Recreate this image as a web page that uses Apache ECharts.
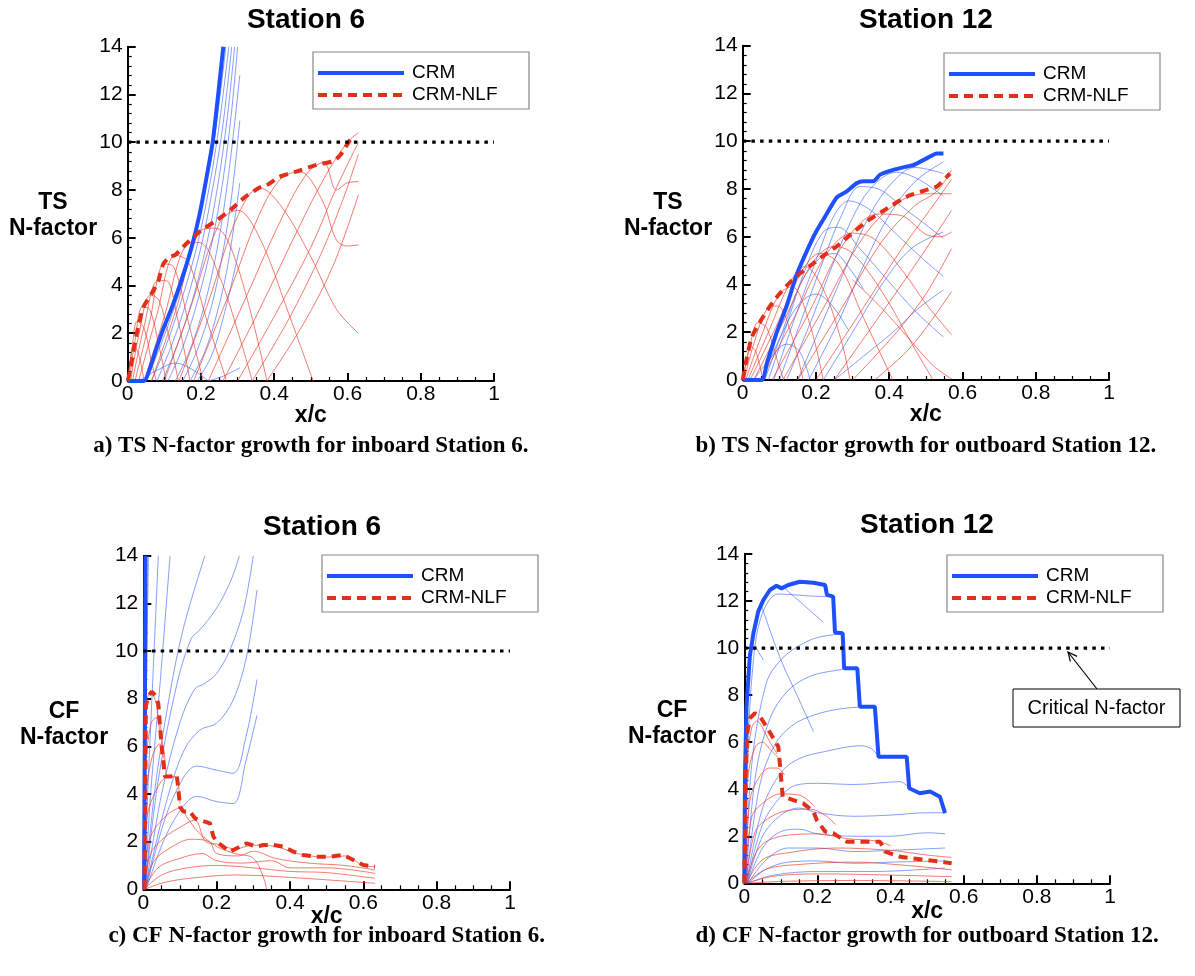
<!DOCTYPE html>
<html><head><meta charset="utf-8">
<script src="https://cdn.jsdelivr.net/npm/echarts/dist/echarts.min.js"></script>
<style>html,body{margin:0;padding:0;background:#fff}#c{width:1195px;height:976px}</style>
</head><body><div id="c"></div><script>
// ---------- DATA ----------
const xTickValues = [0, 0.2, 0.4, 0.6, 0.8, 1];
const yTickValues = [0, 2, 4, 6, 8, 10, 12, 14];
const criticalN = [[0, 10], [1, 10]];
const legendNames = ['CRM', 'CRM-NLF'];
const titles = ['Station 6', 'Station 12', 'Station 6', 'Station 12'];
const yNames = [['TS', 'N-factor'], ['TS', 'N-factor'], ['CF', 'N-factor'], ['CF', 'N-factor']];
const captions = ['a) TS N-factor growth for inboard Station 6.', 'b) TS N-factor growth for outboard Station 12.',
  'c) CF N-factor growth for inboard Station 6.', 'd) CF N-factor growth for outboard Station 12.'];

// (a) TS, Station 6
const tsS6_crmEnv = [[0,0],[0.045,0],[0.06,0.5],[0.079,1.4],[0.1,2.3],[0.12,3.05],[0.147,4.23],[0.175,5.63],[0.197,7.03],[0.214,8.42],[0.232,10],[0.247,12],[0.261,14]];
const tsS6_nlfEnv = [[0,0],[0.006,0.4],[0.015,1.2],[0.025,2.0],[0.043,3.1],[0.065,3.65],[0.084,4.2],[0.097,4.9],[0.115,5.2],[0.13,5.28],[0.16,5.75],[0.2,6.3],[0.24,6.7],[0.28,7.15],[0.32,7.7],[0.36,8.1],[0.38,8.2],[0.415,8.55],[0.46,8.77],[0.515,9.05],[0.56,9.2],[0.58,9.45],[0.605,10.05],[0.615,10.25]];
const tsS6_crmModes = [
  [[0.05,0],[0.09,1.5],[0.13,3.2],[0.17,5.2],[0.2,7.2],[0.235,10],[0.268,14]],
  [[0.065,0],[0.105,1.5],[0.145,3.3],[0.185,5.4],[0.215,7.5],[0.245,10.2],[0.276,14]],
  [[0.08,0],[0.12,1.5],[0.16,3.3],[0.2,5.6],[0.23,7.9],[0.258,10.5],[0.284,14]],
  [[0.095,0],[0.135,1.5],[0.175,3.3],[0.215,5.7],[0.245,8.1],[0.27,10.8],[0.292,14]],
  [[0.11,0],[0.15,1.4],[0.19,3.3],[0.23,5.8],[0.26,8.4],[0.283,11.2],[0.3,14]],
  [[0.13,0],[0.17,1.3],[0.21,3.2],[0.245,5.6],[0.275,8.6],[0.306,12.8]],
  [[0.15,0],[0.19,1.3],[0.23,3.2],[0.26,5.4],[0.285,7.9],[0.306,10.9]],
  [[0.17,0],[0.21,1.2],[0.245,2.9],[0.275,5.0],[0.306,8.3]],
  [[0.19,0],[0.23,1.1],[0.265,2.9],[0.306,5.6]],
  [[0.22,0],[0.26,0.2],[0.306,0.55]],
  [[0.03,0],[0.08,0.45],[0.13,0.75],[0.18,0.45],[0.22,0]]
];
const tsS6_nlfModes = [
  [[0,0],[0.008,0.9],[0.016,1.5],[0.03,1.1],[0.045,0]],
  [[0,0],[0.012,1.4],[0.026,2.5],[0.045,2.2],[0.065,0.8],[0.078,0]],
  [[0.004,0],[0.02,1.7],[0.04,3.1],[0.06,3.0],[0.085,1.5],[0.105,0]],
  [[0.008,0],[0.03,1.9],[0.062,3.6],[0.085,3.4],[0.115,1.7],[0.138,0]],
  [[0.013,0],[0.045,2.3],[0.082,4.2],[0.105,4.2],[0.135,2.7],[0.17,0]],
  [[0.02,0],[0.06,2.5],[0.1,4.9],[0.125,4.8],[0.165,2.5],[0.206,0]],
  [[0.03,0],[0.08,2.8],[0.13,5.27],[0.165,5.0],[0.215,2.6],[0.27,0]],
  [[0.045,0],[0.1,2.7],[0.16,5.7],[0.195,5.8],[0.25,4.4],[0.31,1.6],[0.34,0]],
  [[0.065,0],[0.13,2.9],[0.2,6.3],[0.24,6.4],[0.3,4.8],[0.38,0]],
  [[0.1,0],[0.17,3.0],[0.25,6.6],[0.3,7.15],[0.36,6.0],[0.44,2.8],[0.506,0]],
  [[0.14,0],[0.22,3.3],[0.3,6.9],[0.36,8.1],[0.42,7.3],[0.5,5.2],[0.57,3.0],[0.63,2.0]],
  [[0.18,0],[0.27,3.4],[0.36,7.0],[0.42,8.5],[0.47,8.75],[0.53,7.6],[0.57,5.9],[0.6,5.65],[0.63,5.7]],
  [[0.22,0],[0.32,3.4],[0.42,6.8],[0.49,8.7],[0.535,9.15],[0.57,8.0],[0.6,8.3],[0.63,8.35]],
  [[0.26,0],[0.36,3.0],[0.46,6.2],[0.54,8.6],[0.6,10.0],[0.63,10.4]],
  [[0.3,0],[0.4,2.7],[0.5,5.6],[0.57,8.1],[0.63,10.0]],
  [[0.34,0],[0.44,2.6],[0.53,5.4],[0.59,7.7],[0.63,9.5]],
  [[0.38,0],[0.48,2.4],[0.56,4.8],[0.63,7.8]]
];

// (b) TS, Station 12
const tsS12_crmEnv = [[0,0],[0.052,0],[0.066,0.7],[0.093,2.0],[0.12,3.1],[0.147,4.4],[0.175,5.4],[0.2,6.2],[0.229,6.95],[0.257,7.65],[0.284,7.9],[0.311,8.24],[0.33,8.32],[0.357,8.32],[0.375,8.6],[0.411,8.8],[0.448,8.94],[0.466,9.0],[0.502,9.28],[0.53,9.49],[0.548,9.49]];
const tsS12_nlfEnv = [[0,0],[0.011,0.9],[0.025,1.8],[0.05,2.5],[0.075,3.1],[0.1,3.6],[0.13,4.1],[0.16,4.5],[0.19,4.85],[0.22,5.2],[0.257,5.6],[0.295,6.1],[0.34,6.65],[0.38,7.05],[0.402,7.26],[0.448,7.68],[0.502,7.96],[0.53,8.1],[0.566,8.65]];
const tsS12_crmModes = [
  [[0.03,0],[0.07,0.8],[0.12,1.5],[0.155,1.2],[0.184,0]],
  [[0.05,0],[0.1,1.7],[0.15,3.1],[0.2,3.6],[0.245,3.1],[0.288,2.1]],
  [[0.06,0],[0.11,2.1],[0.16,4.1],[0.21,5.1],[0.25,5.3],[0.29,4.7],[0.33,3.8]],
  [[0.07,0],[0.12,2.3],[0.17,4.6],[0.22,6.2],[0.26,6.4],[0.32,5.5],[0.4,4.1],[0.47,2.9],[0.548,1.8]],
  [[0.085,0],[0.14,2.5],[0.2,5.0],[0.25,6.9],[0.29,7.5],[0.35,7.1],[0.42,6.1],[0.49,5.1],[0.548,4.33]],
  [[0.1,0],[0.16,2.5],[0.22,5.0],[0.27,6.9],[0.32,8.1],[0.37,8.0],[0.44,7.2],[0.5,6.5],[0.548,5.93]],
  [[0.12,0],[0.19,2.6],[0.25,5.0],[0.31,7.1],[0.36,8.2],[0.42,8.7],[0.48,8.4],[0.548,7.7]],
  [[0.15,0],[0.22,2.5],[0.29,5.0],[0.35,7.0],[0.41,8.3],[0.47,8.9],[0.548,8.65]],
  [[0.18,0],[0.26,2.4],[0.33,4.8],[0.4,6.9],[0.47,8.3],[0.548,9.14]],
  [[0.22,0],[0.3,2.0],[0.38,4.0],[0.46,5.5],[0.548,6.2]],
  [[0.25,0],[0.33,1.0],[0.41,2.0],[0.48,3.0],[0.548,3.77]]
];
const tsS12_nlfModes = [
  [[0,0],[0.01,0.8],[0.022,1.4],[0.036,1.2],[0.055,0]],
  [[0,0],[0.018,1.3],[0.042,2.4],[0.065,2.2],[0.095,0.8],[0.112,0]],
  [[0.004,0],[0.03,1.5],[0.068,3.0],[0.095,3.1],[0.135,1.8],[0.165,0]],
  [[0.008,0],[0.05,1.8],[0.1,3.6],[0.135,3.9],[0.18,2.5],[0.22,0]],
  [[0.014,0],[0.07,2.0],[0.13,4.1],[0.17,4.75],[0.22,3.8],[0.27,1.6],[0.293,0]],
  [[0.02,0],[0.09,2.2],[0.16,4.5],[0.21,5.3],[0.26,4.9],[0.33,2.6],[0.41,0]],
  [[0.03,0],[0.11,2.4],[0.19,4.9],[0.25,5.6],[0.3,5.3],[0.38,3.7],[0.47,1.3],[0.52,0]],
  [[0.05,0],[0.14,2.6],[0.23,5.3],[0.3,6.15],[0.36,5.9],[0.44,4.5],[0.5,3.2],[0.57,1.9]],
  [[0.08,0],[0.18,2.8],[0.28,5.8],[0.37,6.95],[0.43,6.9],[0.5,6.1],[0.54,6.0],[0.57,6.2]],
  [[0.11,0],[0.22,3.0],[0.33,6.0],[0.42,7.4],[0.5,7.8],[0.57,7.8]],
  [[0.15,0],[0.27,3.0],[0.38,5.8],[0.47,7.3],[0.53,7.9],[0.57,8.8]],
  [[0.2,0],[0.32,2.8],[0.43,5.4],[0.51,7.1],[0.57,8.4]],
  [[0.25,0],[0.37,2.6],[0.47,4.8],[0.57,7.1]],
  [[0.3,0],[0.42,2.0],[0.5,3.6],[0.57,5.5]],
  [[0.36,0],[0.46,1.4],[0.57,3.7]],
  [[0.3,4.2],[0.38,3.0],[0.45,1.8],[0.52,0.6],[0.57,0.05]]
];

// (c) CF, Station 6
const cfS6_crmEnv = [[0.002,0],[0.004,6],[0.006,14]];
const cfS6_nlfEnv = [[0.003,0],[0.005,4],[0.007,7.7],[0.014,8.1],[0.023,8.3],[0.032,8.15],[0.041,7.8],[0.045,6.96],[0.05,5.98],[0.056,5.15],[0.059,4.73],[0.073,4.73],[0.091,4.8],[0.095,4.31],[0.1,3.47],[0.109,3.26],[0.127,3.26],[0.141,2.98],[0.168,2.84],[0.182,2.77],[0.191,2.21],[0.205,1.93],[0.218,1.79],[0.236,1.58],[0.255,1.72],[0.282,1.93],[0.309,1.79],[0.327,1.86],[0.355,1.86],[0.382,1.79],[0.409,1.58],[0.436,1.44],[0.473,1.37],[0.509,1.37],[0.545,1.44],[0.573,1.23],[0.6,1.02],[0.632,0.95]];
const cfS6_crmModes = [
  [[0.002,0],[0.006,5],[0.01,10],[0.014,14]],
  [[0.003,0],[0.012,4],[0.025,8.5],[0.041,14]],
  [[0.004,0],[0.02,4],[0.045,8.5],[0.073,14]],
  [[0.005,0],[0.03,4],[0.07,8],[0.11,11],[0.168,14]],
  [[0.005,0],[0.04,4.5],[0.09,8.5],[0.13,10.5],[0.155,10.9],[0.2,11.8],[0.24,13],[0.262,14]],
  [[0.006,0],[0.05,4],[0.1,7],[0.14,8.4],[0.168,8.64],[0.2,9.06],[0.236,10.04],[0.273,11.7],[0.3,14]],
  [[0.006,0],[0.06,3.5],[0.11,5.8],[0.155,6.69],[0.2,6.97],[0.245,7.94],[0.282,9.8],[0.31,12.56]],
  [[0.007,0],[0.06,3],[0.11,4.7],[0.145,5.17],[0.2,5.0],[0.245,4.87],[0.28,6.4],[0.31,8.8]],
  [[0.008,0],[0.06,2.2],[0.11,3.5],[0.145,3.9],[0.2,3.68],[0.245,3.6],[0.28,5.4],[0.31,7.3]]
];
const cfS6_nlfModes = [
  [[0.001,0],[0.004,6],[0.012,8.1],[0.022,8.2],[0.035,7.8],[0.045,6.5]],
  [[0.001,0],[0.006,5],[0.02,6.9],[0.035,7.2],[0.045,7.0],[0.055,5.5]],
  [[0.001,0],[0.008,4],[0.025,5.6],[0.045,6.1],[0.055,5.9],[0.062,4.8]],
  [[0.001,0],[0.01,3],[0.04,4.3],[0.07,4.75],[0.09,4.7],[0.1,3.6]],
  [[0.001,0],[0.015,2.0],[0.05,2.9],[0.1,3.4],[0.12,3.0],[0.15,2.4],[0.2,1.8],[0.25,1.5],[0.3,1.3],[0.33,0.4],[0.336,0]],
  [[0.002,0],[0.02,1.5],[0.06,2.2],[0.1,2.6],[0.14,2.9],[0.17,2.0],[0.2,1.9],[0.25,1.7],[0.3,1.85],[0.36,1.8],[0.42,1.5],[0.5,1.35],[0.55,1.4],[0.6,1.0],[0.632,0.95]],
  [[0.002,0],[0.03,1.2],[0.08,1.8],[0.13,2.1],[0.18,2.0],[0.2,1.5],[0.26,1.4],[0.3,1.6],[0.36,1.3],[0.45,1.1],[0.55,1.0],[0.632,0.81]],
  [[0.003,0],[0.04,0.9],[0.1,1.3],[0.16,1.5],[0.2,1.2],[0.27,1.1],[0.35,1.2],[0.4,0.9],[0.5,0.9],[0.632,0.67]],
  [[0.003,0],[0.05,0.6],[0.12,0.9],[0.2,1.0],[0.3,0.9],[0.4,0.75],[0.5,0.7],[0.632,0.46]],
  [[0.004,0],[0.06,0.3],[0.15,0.5],[0.25,0.6],[0.4,0.5],[0.632,0.25]]
];

// (d) CF, Station 12
const cfS12_crmEnv = [[0,0],[0.002,4.68],[0.006,7.5],[0.015,9.64],[0.025,10.63],[0.038,11.55],[0.052,12.04],[0.07,12.47],[0.088,12.65],[0.102,12.54],[0.12,12.68],[0.152,12.82],[0.189,12.78],[0.221,12.68],[0.226,12.26],[0.243,12.19],[0.248,10.66],[0.269,10.63],[0.273,9.14],[0.309,9.14],[0.316,7.51],[0.357,7.51],[0.367,5.38],[0.444,5.38],[0.451,4.04],[0.48,3.83],[0.508,3.9],[0.535,3.68],[0.549,2.98]];
const cfS12_nlfEnv = [[0,0],[0.004,4.68],[0.008,6.38],[0.015,7.01],[0.029,7.23],[0.043,7.09],[0.066,6.52],[0.093,5.81],[0.098,4.96],[0.105,3.68],[0.12,3.61],[0.161,3.4],[0.189,3.05],[0.198,2.69],[0.221,2.2],[0.243,2.13],[0.28,1.77],[0.371,1.77],[0.385,1.35],[0.426,1.13],[0.462,1.06],[0.499,0.99],[0.535,0.92],[0.567,0.85]];
const cfS12_crmModes = [
  [[0.002,0],[0.008,5],[0.025,9.5],[0.05,11.5],[0.093,12.3],[0.15,12.25],[0.2,12.2],[0.226,12.2]],
  [[0.003,0],[0.02,5],[0.06,8.5],[0.1,9.5],[0.15,10.1],[0.2,10.45],[0.266,10.6]],
  [[0.004,0],[0.03,4.5],[0.07,7],[0.12,8.2],[0.18,8.8],[0.25,9.05],[0.309,9.14]],
  [[0.005,0],[0.04,4],[0.08,5.8],[0.13,6.7],[0.2,7.2],[0.28,7.45],[0.357,7.5]],
  [[0.006,0],[0.05,3.2],[0.1,4.7],[0.15,5.3],[0.22,5.6],[0.32,5.85],[0.35,5.7],[0.37,5.42],[0.444,5.38]],
  [[0.007,0],[0.05,2.5],[0.1,3.7],[0.143,4.18],[0.2,4.25],[0.3,4.2],[0.426,4.32],[0.451,4.04]],
  [[0.008,0],[0.05,2.0],[0.1,2.9],[0.15,3.2],[0.2,3.0],[0.3,2.85],[0.4,2.9],[0.5,3.0],[0.549,3.0]],
  [[0.009,0],[0.05,1.5],[0.1,2.2],[0.15,2.3],[0.2,2.1],[0.3,2.0],[0.4,2.0],[0.5,2.15],[0.549,2.1]],
  [[0.01,0],[0.06,1.0],[0.12,1.5],[0.2,1.5],[0.3,1.35],[0.4,1.4],[0.549,1.5]],
  [[0.01,0],[0.06,0.6],[0.12,0.9],[0.2,0.95],[0.3,0.85],[0.4,0.9],[0.549,0.95]],
  [[0.01,0],[0.08,0.35],[0.2,0.5],[0.35,0.5],[0.549,0.65]],
  [[0.102,12.65],[0.15,12.0],[0.216,11.1]],
  [[0.047,11.8],[0.1,9.5],[0.15,7.8],[0.189,6.45]],
  [[0.029,10.1],[0.052,9.5]]
];
const cfS12_nlfModes = [
  [[0.002,0],[0.008,5],[0.02,6.6],[0.035,6.9],[0.05,6.6],[0.07,6.0],[0.09,5.5]],
  [[0.002,0],[0.01,4.5],[0.03,5.8],[0.05,6.0],[0.07,5.7],[0.095,5.3]],
  [[0.003,0],[0.015,3.5],[0.04,4.5],[0.07,4.9],[0.09,4.9],[0.11,4.6]],
  [[0.003,0],[0.02,2.8],[0.05,3.4],[0.1,3.8],[0.15,3.75],[0.19,3.3]],
  [[0.004,0],[0.03,2.2],[0.07,2.8],[0.12,3.1],[0.18,3.15],[0.22,2.9],[0.25,2.5]],
  [[0.004,0],[0.04,1.5],[0.1,2.0],[0.2,2.1],[0.28,1.9],[0.36,1.8],[0.4,1.6]],
  [[0.005,0],[0.05,1.0],[0.12,1.3],[0.25,1.5],[0.4,1.4],[0.5,1.2],[0.567,1.1]],
  [[0.005,0],[0.06,0.6],[0.15,0.8],[0.3,0.9],[0.45,0.75],[0.567,0.57]],
  [[0.006,0],[0.08,0.3],[0.2,0.4],[0.4,0.35],[0.567,0.28]],
  [[0.007,0],[0.1,0.08],[0.3,0.12],[0.567,0.07]]
];

// ---------- LAYOUT / STYLE ----------
const SANS = "'Liberation Sans', Arial, Helvetica, sans-serif";
const SERIF = "'Liberation Serif', 'Times New Roman', serif";
const BLUE = '#1e50ff', RED = '#e0301a';
const grids = [
  {left:127.7, top:46.7, width:366.3, height:334.3},
  {left:742.7, top:45.7, width:366.3, height:334.3},
  {left:143.3, top:555.7, width:366.7, height:333.6},
  {left:744.3, top:554, width:365.7, height:329.3}
];
const panelData = [
  [tsS6_crmModes, tsS6_nlfModes, tsS6_crmEnv, tsS6_nlfEnv],
  [tsS12_crmModes, tsS12_nlfModes, tsS12_crmEnv, tsS12_nlfEnv],
  [cfS6_crmModes, cfS6_nlfModes, cfS6_crmEnv, cfS6_nlfEnv],
  [cfS12_crmModes, cfS12_nlfModes, cfS12_crmEnv, cfS12_nlfEnv]
];
const legendBoxes = [[313,52],[944,53],[322,555],[947,555]];
const titlePos = [[306,20],[926,20],[322,527],[927,525]];
const captionY = [446, 446, 936, 936];
const yNamePos = [[53,203],[668,203],[64,712],[672,711]];
const xNameGap = [23, 23, 16, 17];

const xAxes = [], yAxes = [], series = [], graphic = [];
grids.forEach((g, i) => {
  xAxes.push({gridIndex:i, type:'value', min:0, max:1, interval:0.2,
    axisLine:{show:true, onZero:false, lineStyle:{color:'#000', width:2}},
    axisTick:{show:true, inside:true, length:8, lineStyle:{color:'#000', width:2}},
    minorTick:{show:true, splitNumber:4, length:4, lineStyle:{color:'#000', width:1.2}},
    splitLine:{show:false},
    axisLabel:{fontFamily:SANS, fontSize:21, color:'#000', margin:3,
      formatter: v => xTickValues.includes(+v.toFixed(1)) ? String(+v.toFixed(1)) : ''},
    name:'x/c', nameLocation:'middle', nameGap:xNameGap[i], nameMoveOverlap:false,
    nameTextStyle:{fontFamily:SANS, fontSize:23, fontWeight:'bold', color:'#000'}
  });
  yAxes.push({gridIndex:i, type:'value', min:0, max:14, interval:2,
    axisLine:{show:true, onZero:false, lineStyle:{color:'#000', width:2}},
    axisTick:{show:true, inside:true, length:8, lineStyle:{color:'#000', width:2}},
    minorTick:{show:true, splitNumber:5, length:4, lineStyle:{color:'#000', width:1.2}},
    splitLine:{show:false},
    axisLabel:{fontFamily:SANS, fontSize:21, color:'#000', margin:5,
      formatter: v => yTickValues.includes(Math.round(v)) ? String(Math.round(v)) : ''}
  });
  const [cm, nm, ce, ne] = panelData[i];
  cm.forEach(d => series.push({type:'line', xAxisIndex:i, yAxisIndex:i, data:d, symbol:'none', smooth:0.35, silent:true, z:2,
    lineStyle:{color:'#3d63ff', width:0.9, opacity:0.7}}));
  nm.forEach(d => series.push({type:'line', xAxisIndex:i, yAxisIndex:i, data:d, symbol:'none', smooth:0.35, silent:true, z:2,
    lineStyle:{color:'#ee3a2a', width:0.9, opacity:0.75}}));
  series.push({type:'line', xAxisIndex:i, yAxisIndex:i, data:ce, symbol:'none', smooth:(i<2?0.2:false), silent:true, z:4,
    lineStyle:{color:BLUE, width:4}});
  series.push({type:'line', xAxisIndex:i, yAxisIndex:i, data:ne, symbol:'none', smooth:(i<2?0.2:false), silent:true, z:5,
    lineStyle:{color:RED, width:4, type:[9,6]}});
  series.push({type:'line', xAxisIndex:i, yAxisIndex:i, data:criticalN, symbol:'none', silent:true, z:6,
    lineStyle:{color:'#000', width:3.2, type:[3.5,5.2]}});

  const cx = g.left + g.width/2;
  graphic.push({type:'text', x:titlePos[i][0], y:titlePos[i][1], style:{text:titles[i], font:`bold 28px ${SANS}`, fill:'#000', textAlign:'center', textVerticalAlign:'middle'}});
  graphic.push({type:'text', x:cx, y:captionY[i], style:{text:captions[i], font:`bold 23px ${SERIF}`, fill:'#000', textAlign:'center', textVerticalAlign:'middle'}});
  const [ylx, yly] = yNamePos[i];
  graphic.push({type:'text', x:ylx, y:yly, style:{text:yNames[i][0], font:`bold 23px ${SANS}`, fill:'#000', textAlign:'center', textVerticalAlign:'middle'}});
  graphic.push({type:'text', x:ylx, y:yly+26, style:{text:yNames[i][1], font:`bold 23px ${SANS}`, fill:'#000', textAlign:'center', textVerticalAlign:'middle'}});
  const [lx, ly] = legendBoxes[i];
  graphic.push({type:'rect', shape:{x:lx, y:ly, width:216, height:57}, style:{fill:'#fff', stroke:'#888', lineWidth:1.2}, z:10});
  graphic.push({type:'line', shape:{x1:lx+5, y1:ly+21, x2:lx+91, y2:ly+21}, style:{stroke:BLUE, lineWidth:4}, z:11});
  graphic.push({type:'line', shape:{x1:lx+5, y1:ly+43, x2:lx+91, y2:ly+43}, style:{stroke:RED, lineWidth:4, lineDash:[9,6]}, z:11});
  graphic.push({type:'text', x:lx+99, y:ly+21, style:{text:legendNames[0], font:`19px ${SANS}`, fill:'#000', textVerticalAlign:'middle'}, z:11});
  graphic.push({type:'text', x:lx+99, y:ly+43, style:{text:legendNames[1], font:`19px ${SANS}`, fill:'#000', textVerticalAlign:'middle'}, z:11});
});
// annotation on panel d
graphic.push({type:'rect', shape:{x:1013, y:689, width:167, height:38}, style:{fill:'#fff', stroke:'#000', lineWidth:1}, z:10});
graphic.push({type:'text', x:1096.5, y:708, style:{text:'Critical N-factor', font:`20px ${SANS}`, fill:'#000', textAlign:'center', textVerticalAlign:'middle'}, z:11});
graphic.push({type:'line', shape:{x1:1097, y1:689, x2:1068, y2:652}, style:{stroke:'#000', lineWidth:1.2}, z:11});
graphic.push({type:'polyline', shape:{points:[[1070.4,661.7],[1068,652],[1077,656.4]]}, style:{stroke:'#000', lineWidth:1.2, fill:null}, z:11});

const chart = echarts.init(document.getElementById('c'), null, {renderer:'canvas'});
chart.setOption({
  backgroundColor:'#fff', animation:false,
  grid: grids.map(g => Object.assign({containLabel:false}, g)),
  xAxis: xAxes, yAxis: yAxes, series: series, graphic: graphic
});
</script></body></html>
